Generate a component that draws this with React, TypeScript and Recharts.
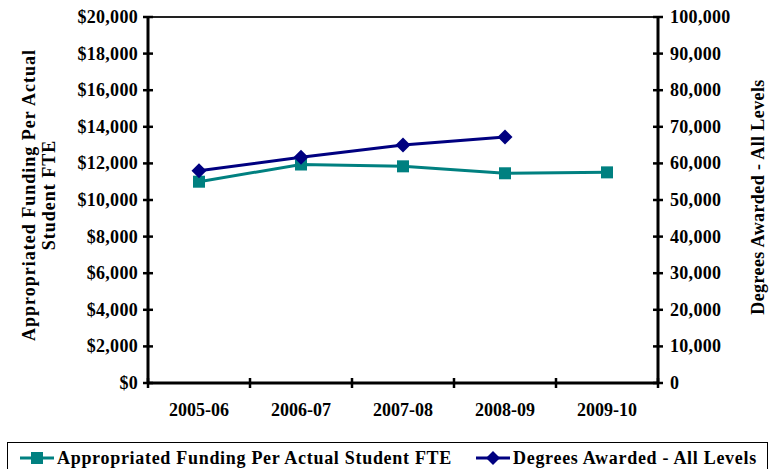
import { LineChart, Line, XAxis, YAxis, Legend, ReferenceLine } from 'recharts'

const years = ['2005-06', '2006-07', '2007-08', '2008-09', '2009-10']
const funding = [11000, 11940, 11840, 11460, 11510]
const degrees = [58000, 61700, 65000, 67200, null]
const fundingTicks = [0, 2000, 4000, 6000, 8000, 10000, 12000, 14000, 16000, 18000, 20000]
const degreeTicks = [0, 10000, 20000, 30000, 40000, 50000, 60000, 70000, 80000, 90000, 100000]
// integer ticks are the band edges, half ticks carry the year labels
const xTicks = [0, 0.5, 1, 1.5, 2, 2.5, 3, 3.5, 4, 4.5, 5]

const data = years.map((year, i) => ({
    pos: i + 0.5,
    year,
    funding: funding[i],
    degrees: degrees[i],
}))

const FONT = '"Liberation Serif", "Times New Roman", serif'
const TEAL = '#008080'
const NAVY = '#000080'

function LeftTick({ x, y, payload }: any) {
    return (
        <g>
            <line x1={x - 5} x2={x + 5} y1={y} y2={y} stroke="#000" strokeWidth={2.5} />
            <text x={x - 10} y={y} dy={6} textAnchor="end" fontFamily={FONT} fontWeight="bold" fontSize={18} letterSpacing={0.3} fill="#000">
                {'$' + payload.value.toLocaleString('en-US')}
            </text>
        </g>
    )
}

function RightTick({ x, y, payload }: any) {
    return (
        <g>
            <line x1={x - 5} x2={x + 5} y1={y} y2={y} stroke="#000" strokeWidth={2.5} />
            <text x={x + 12} y={y} dy={6} textAnchor="start" fontFamily={FONT} fontWeight="bold" fontSize={18} letterSpacing={0.3} fill="#000">
                {payload.value.toLocaleString('en-US')}
            </text>
        </g>
    )
}

function BottomTick({ x, y, payload }: any) {
    const v = payload.value
    if (Number.isInteger(v)) {
        return <line x1={x} x2={x} y1={y - 5} y2={y + 5} stroke="#000" strokeWidth={2.5} />
    }
    return (
        <text x={x} y={y + 33} textAnchor="middle" fontFamily={FONT} fontWeight="bold" fontSize={18} fill="#000">
            {years[Math.floor(v)]}
        </text>
    )
}

function SquareDot({ cx, cy }: any) {
    if (cx == null || cy == null) return <g />
    return <rect x={cx - 6} y={cy - 6} width={12} height={12} fill={TEAL} />
}

function DiamondDot({ cx, cy }: any) {
    if (cx == null || cy == null) return <g />
    const r = 7.5
    return <polygon points={`${cx},${cy - r} ${cx + r},${cy} ${cx},${cy + r} ${cx - r},${cy}`} fill={NAVY} />
}

function LeftTitle({ viewBox }: any) {
    const cy = viewBox.y + viewBox.height / 2 - 5
    return (
        <text transform={`translate(0, ${cy}) rotate(-90)`} textAnchor="middle" fontFamily={FONT} fontWeight="bold" fontSize={18} letterSpacing={1} fill="#000">
            <tspan x={0} y={35}>Appropriated Funding Per Actual</tspan>
            <tspan x={0} y={55}>Student FTE</tspan>
        </text>
    )
}

function RightTitle({ viewBox }: any) {
    const cy = viewBox.y + viewBox.height / 2 - 3
    return (
        <text transform={`translate(764, ${cy}) rotate(-90)`} textAnchor="middle" fontFamily={FONT} fontWeight="bold" fontSize={18} letterSpacing={0.4} fill="#000">
            Degrees Awarded - All Levels
        </text>
    )
}

function LegendBox() {
    const item = (color: string, shape: 'square' | 'diamond', label: string, gap: number) => (
        <span style={{ display: 'inline-flex', alignItems: 'center', marginRight: gap }}>
            <svg width={34} height={16} style={{ marginRight: 3 }}>
                <line x1={0} x2={34} y1={8} y2={8} stroke={color} strokeWidth={3} />
                {shape === 'square' ? (
                    <rect x={11} y={2} width={12} height={12} fill={color} />
                ) : (
                    <polygon points="17,1 24,8 17,15 10,8" fill={color} />
                )}
            </svg>
            {label}
        </span>
    )
    return (
        <div
            style={{
                border: '1px solid #000',
                height: 32,
                boxSizing: 'border-box',
                display: 'flex',
                alignItems: 'center',
                paddingLeft: 12,
                fontFamily: FONT,
                fontWeight: 'bold',
                fontSize: 18,
                letterSpacing: 0.7,
                color: '#000',
                background: '#fff',
            }}
        >
            {item(TEAL, 'square', 'Appropriated Funding Per Actual Student FTE', 24)}
            {item(NAVY, 'diamond', 'Degrees Awarded - All Levels', 0)}
        </div>
    )
}

export default function App() {
    return (
        <div style={{ position: 'absolute', left: 0, top: 0, background: '#fff' }}>
            <LineChart width={769} height={469} data={data} margin={{ top: 17, right: 0, bottom: 0, left: 0 }}>
                <XAxis
                    dataKey="pos"
                    type="number"
                    domain={[0, 5]}
                    ticks={xTicks}
                    interval={0}
                    height={54}
                    axisLine={{ stroke: '#000', strokeWidth: 3 }}
                    tickLine={false}
                    tickSize={0}
                    tickMargin={0}
                    tick={<BottomTick />}
                />
                <YAxis
                    yAxisId="left"
                    domain={[0, 20000]}
                    ticks={fundingTicks}
                    interval={0}
                    width={148}
                    axisLine={{ stroke: '#000', strokeWidth: 3 }}
                    tickLine={false}
                    tickSize={0}
                    tickMargin={0}
                    tick={<LeftTick />}
                    label={{ content: <LeftTitle /> }}
                />
                <YAxis
                    yAxisId="right"
                    orientation="right"
                    domain={[0, 100000]}
                    ticks={degreeTicks}
                    interval={0}
                    width={111}
                    axisLine={{ stroke: '#000', strokeWidth: 3 }}
                    tickLine={false}
                    tickSize={0}
                    tickMargin={0}
                    tick={<RightTick />}
                    label={{ content: <RightTitle /> }}
                />
                <ReferenceLine yAxisId="left" y={20000} stroke="#222" strokeWidth={2} />
                <Line
                    yAxisId="left"
                    dataKey="funding"
                    stroke={TEAL}
                    strokeWidth={3}
                    dot={<SquareDot />}
                    activeDot={false}
                    isAnimationActive={false}
                />
                <Line
                    yAxisId="right"
                    dataKey="degrees"
                    stroke={NAVY}
                    strokeWidth={3}
                    dot={<DiamondDot />}
                    activeDot={false}
                    isAnimationActive={false}
                />
                <Legend
                    verticalAlign="bottom"
                    wrapperStyle={{ left: 7, bottom: -5, width: 761 }}
                    content={<LegendBox />}
                />
            </LineChart>
        </div>
    )
}
